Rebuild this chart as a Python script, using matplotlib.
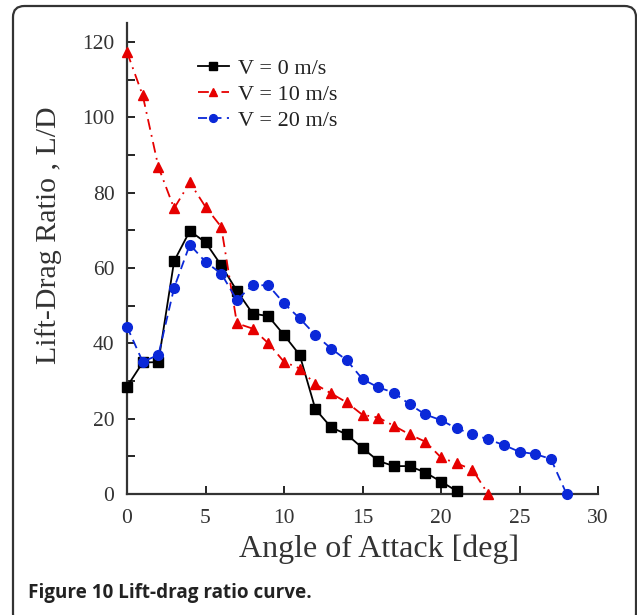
import matplotlib.pyplot as plt
from matplotlib.patches import FancyBboxPatch

# angle of attack [deg]
aoa_0 = list(range(0, 22))
aoa_10 = list(range(0, 24))
aoa_20 = list(range(0, 29))

# lift-drag ratio
ld_0 = [28.5, 34.9, 35.0, 61.8, 69.8, 66.8, 60.7, 53.9, 47.9, 47.2, 42.2, 36.9,
        22.5, 17.7, 15.8, 12.2, 8.8, 7.4, 7.4, 5.7, 3.3, 0.8]
ld_10 = [117.3, 105.8, 86.8, 75.8, 82.7, 76.2, 70.9, 45.3, 43.9, 40.0, 35.1, 33.3,
         29.1, 26.7, 24.3, 21.0, 20.3, 18.1, 15.8, 13.9, 9.7, 8.1, 6.5, 0.0]
ld_20 = [44.4, 35.1, 36.9, 54.7, 66.2, 61.6, 58.5, 51.5, 55.4, 55.4, 50.6, 46.6,
         42.2, 38.6, 35.5, 30.5, 28.3, 26.9, 23.8, 21.1, 19.6, 17.4, 15.9, 14.5,
         13.0, 11.2, 10.6, 9.3, 0.0]

labels = ['V = 0 m/s', 'V = 10 m/s', 'V = 20 m/s']

serif = ['Liberation Serif', 'DejaVu Serif']

fig = plt.figure(figsize=(6.37, 6.15), dpi=100)

# rounded frame around the figure
box = FancyBboxPatch((13 / 637, -10 / 615), 623 / 637, 619 / 615,
                     boxstyle='round,pad=0,rounding_size=0.018',
                     transform=fig.transFigure, fill=False, lw=1.6,
                     edgecolor='#333333', clip_on=False)
fig.patches.append(box)

ax = fig.add_axes([127 / 637, 1 - 494 / 615, 471 / 637, 471 / 615])

ax.plot(aoa_0, ld_0, color='black', ls='-', lw=1.3, marker='s', ms=6.5,
        label=labels[0], clip_on=False, zorder=3)
ax.plot(aoa_10, ld_10, color='#e60000', ls=(0, (6, 3, 1, 3)), lw=1.3, marker='^',
        ms=7, label=labels[1], clip_on=False, zorder=3)
ax.plot(aoa_20, ld_20, color='#0a28d8', ls=(0, (5, 3)), lw=1.3, marker='o', ms=7,
        label=labels[2], clip_on=False, zorder=3)

ax.set_xlim(0, 30)
ax.set_ylim(0, 125)
ax.set_xticks(range(0, 31, 5))
ax.set_yticks(range(0, 121, 20))
ax.set_yticks(range(10, 121, 20), minor=True)
ax.tick_params(axis='x', direction='in', length=6, width=1.2, labelsize=15.5, pad=11)
ax.tick_params(axis='y', direction='in', length=6, width=1.2, labelsize=15.5, pad=9)
ax.tick_params(which='minor', direction='in', length=6, width=1.2)
for lab in ax.get_xticklabels() + ax.get_yticklabels():
    lab.set_family(serif)
    lab.set_color('#333333')

for s in ['top', 'right']:
    ax.spines[s].set_visible(False)
for s in ['left', 'bottom']:
    ax.spines[s].set_linewidth(1.6)
    ax.spines[s].set_color('#333333')

ax.set_xlabel('Angle of Attack [deg]', family=serif, fontsize=23, color='#333333')
ax.xaxis.set_label_coords(0.535, -0.085)
ax.set_ylabel('Lift-Drag Ratio , L/D', family=serif, fontsize=21.5, color='#333333')
ax.yaxis.set_label_coords(-0.138, 0.55)

leg = ax.legend(loc='upper left', bbox_to_anchor=(0.131, 0.944), frameon=False,
                prop={'family': serif, 'size': 16}, handlelength=1.4,
                handletextpad=0.4, labelspacing=0.25, markerscale=0.8,
                borderaxespad=0)
for t in leg.get_texts():
    t.set_color('#222222')

fig.text(28 / 637, 1 - 593 / 615, 'Figure 10 Lift-drag ratio curve.',
         family=['Open Sans', 'DejaVu Sans'], fontweight='bold', fontsize=13.6,
         color='#222222', va='center', ha='left')

fig.savefig('out.png', dpi=100)
